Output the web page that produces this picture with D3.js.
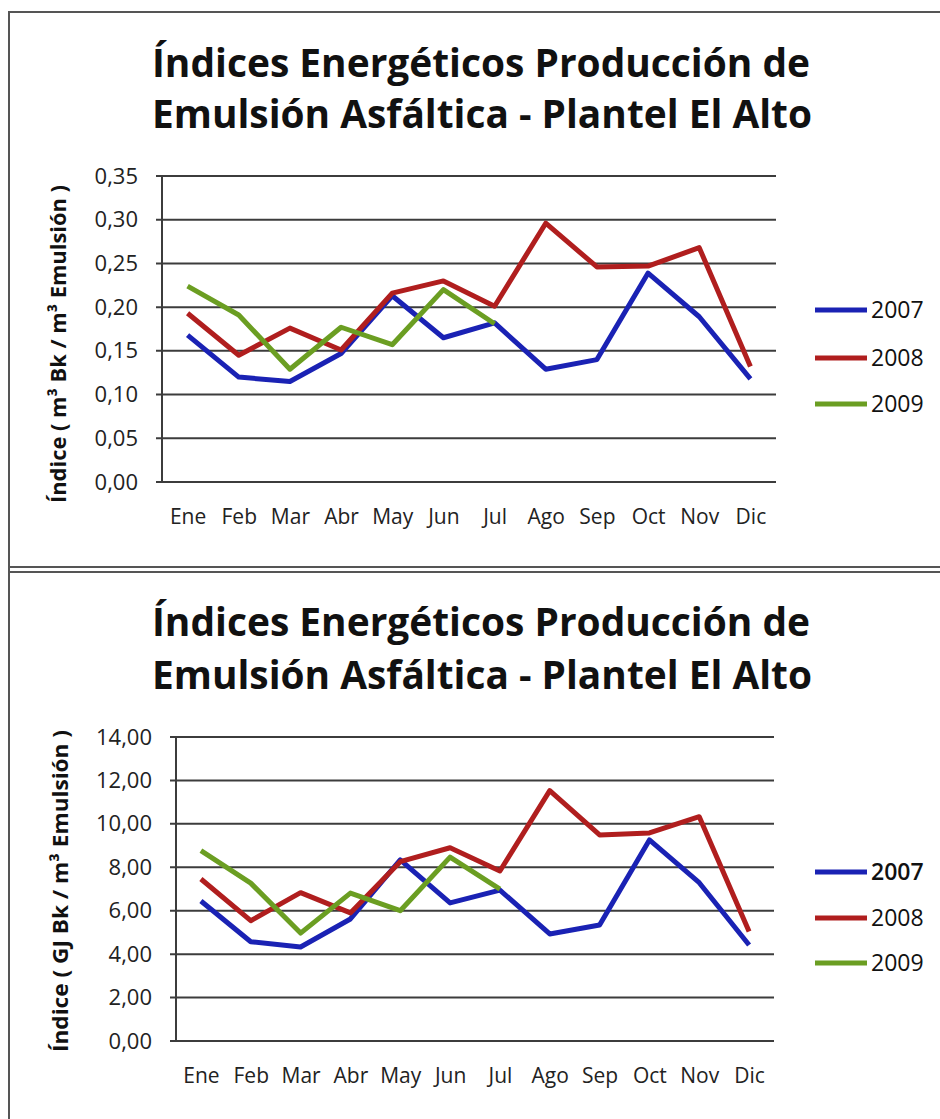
<!DOCTYPE html>
<html>
<head>
<meta charset="utf-8">
<script src="https://cdn.jsdelivr.net/npm/d3@7"></script>
<style>
  body { margin: 0; background: #fff; }
  svg { display: block; font-family: 'Open Sans', sans-serif; }
</style>
</head>
<body>
<svg id="chart" width="940" height="1119"></svg>
<script>
var months = ['Ene', 'Feb', 'Mar', 'Abr', 'May', 'Jun', 'Jul', 'Ago', 'Sep', 'Oct', 'Nov', 'Dic'];
var years = ['2007', '2008', '2009'];
var yearColors = ['#1a22b4', '#b01e1e', '#6b9e22'];

// indice m3 Bk / m3 emulsion
var vol2007 = [0.168, 0.120, 0.115, 0.147, 0.213, 0.165, 0.182, 0.129, 0.140, 0.239, 0.189, 0.118];
var vol2008 = [0.193, 0.145, 0.176, 0.151, 0.216, 0.230, 0.201, 0.296, 0.246, 0.247, 0.268, 0.132];
var vol2009 = [0.224, 0.191, 0.129, 0.177, 0.157, 0.220, 0.181];
var volTicks = [0, 0.05, 0.10, 0.15, 0.20, 0.25, 0.30, 0.35];

// indice GJ Bk / m3 emulsion
var gj2007 = [6.45, 4.57, 4.33, 5.62, 8.34, 6.36, 6.95, 4.93, 5.34, 9.26, 7.29, 4.42];
var gj2008 = [7.46, 5.54, 6.83, 5.90, 8.26, 8.90, 7.83, 11.53, 9.49, 9.58, 10.33, 5.04];
var gj2009 = [8.77, 7.27, 4.97, 6.81, 6.00, 8.47, 6.99];
var gjTicks = [0, 2, 4, 6, 8, 10, 12, 14];

var titleLines = ['Índices Energéticos Producción de', 'Emulsión Asfáltica - Plantel El Alto'];

var esLocale = d3.formatLocale({decimal: ',', thousands: '.', grouping: [3], currency: ['', '']});
var fmt2 = esLocale.format('.2f');

var svg = d3.select('#chart');

// panel frames
svg.append('path')
    .attr('d', 'M9,1119 V12 H940 M9,567 H940 M9,572 H940')
    .attr('fill', 'none')
    .attr('stroke', '#555')
    .attr('stroke-width', 2);

drawChart({
    titleY: [77, 128],
    left: 162, right: 776, top: 176, bottom: 482,
    max: 0.35, ticks: volTicks,
    series: [vol2007, vol2008, vol2009],
    yTitle: 'Índice ( m³ Bk / m³ Emulsión )',
    yTitleX: 58, yTitleY: 344, yTitleLen: 318,
    legendY: [310, 358, 404], legendBold: false
});

drawChart({
    titleY: [636, 689],
    left: 176, right: 774, top: 737, bottom: 1041,
    max: 14, ticks: gjTicks,
    series: [gj2007, gj2008, gj2009],
    yTitle: 'Índice ( GJ Bk / m³ Emulsión )',
    yTitleX: 60, yTitleY: 891, yTitleLen: 322,
    legendY: [872, 918, 963], legendBold: true
});

function drawChart(c) {
    var g = svg.append('g');

    g.selectAll('.title')
        .data(titleLines)
        .enter().append('text')
        .attr('class', 'title')
        .attr('x', 152)
        .attr('y', function(d, i) { return c.titleY[i]; })
        .attr('textLength', function(d, i) { return i == 0 ? 658 : 660; })
        .attr('lengthAdjust', 'spacingAndGlyphs')
        .style('font-size', '39px')
        .style('font-weight', 'bold')
        .style('fill', '#111')
        .text(function(d) { return d; });

    var x = d3.scalePoint().domain(months).range([c.left, c.right]).padding(0.5);
    var y = d3.scaleLinear().domain([0, c.max]).range([c.bottom, c.top]);

    // gridlines
    g.selectAll('.grid')
        .data(c.ticks)
        .enter().append('line')
        .attr('class', 'grid')
        .attr('x1', c.left - 6)
        .attr('x2', c.right)
        .attr('y1', function(d) { return y(d); })
        .attr('y2', function(d) { return y(d); })
        .attr('stroke', '#3c3c3c')
        .attr('stroke-width', 2);

    g.append('line')
        .attr('x1', c.left).attr('x2', c.left)
        .attr('y1', c.top).attr('y2', c.bottom)
        .attr('stroke', '#3c3c3c')
        .attr('stroke-width', 2);

    var yAxis = d3.axisLeft(y).tickValues(c.ticks).tickFormat(fmt2).tickSize(0).tickPadding(24);
    var ya = g.append('g')
        .attr('transform', 'translate(' + c.left + ',0)')
        .call(yAxis);
    ya.select('.domain').remove();
    ya.selectAll('text')
        .style('font-family', "'Open Sans', sans-serif")
        .style('font-size', '22px')
        .style('fill', '#222');

    var xAxis = d3.axisBottom(x).tickSize(0).tickPadding(27);
    var xa = g.append('g')
        .attr('transform', 'translate(0,' + c.bottom + ')')
        .call(xAxis);
    xa.select('.domain').remove();
    xa.selectAll('text')
        .style('font-family', "'Open Sans', sans-serif")
        .style('font-size', '21px')
        .style('fill', '#222');

    // y axis title
    g.append('text')
        .attr('transform', 'translate(' + c.yTitleX + ',' + c.yTitleY + ') rotate(-90)')
        .attr('text-anchor', 'middle')
        .attr('dy', '0.35em')
        .attr('textLength', c.yTitleLen)
        .attr('lengthAdjust', 'spacingAndGlyphs')
        .style('font-size', '22px')
        .style('font-weight', 'bold')
        .style('fill', '#111')
        .text(c.yTitle);

    var line = d3.line()
        .x(function(d, i) { return x(months[i]); })
        .y(function(d) { return y(d); });

    g.selectAll('.series')
        .data(c.series)
        .enter().append('path')
        .attr('class', 'series')
        .attr('d', function(d) { return line(d); })
        .attr('fill', 'none')
        .attr('stroke', function(d, i) { return yearColors[i]; })
        .attr('stroke-width', 5)
        .attr('stroke-linejoin', 'round');

    // legend
    var leg = g.selectAll('.legend')
        .data(years)
        .enter().append('g')
        .attr('class', 'legend')
        .attr('transform', function(d, i) { return 'translate(815,' + c.legendY[i] + ')'; });
    leg.append('line')
        .attr('x1', 0).attr('x2', 52)
        .attr('stroke', function(d, i) { return yearColors[i]; })
        .attr('stroke-width', 5);
    leg.append('text')
        .attr('x', 56)
        .attr('dy', '0.36em')
        .style('font-size', '23px')
        .style('font-weight', function(d, i) { return c.legendBold && i == 0 ? 600 : 400; })
        .style('fill', '#111')
        .text(function(d) { return d; });
}
</script>
</body>
</html>
